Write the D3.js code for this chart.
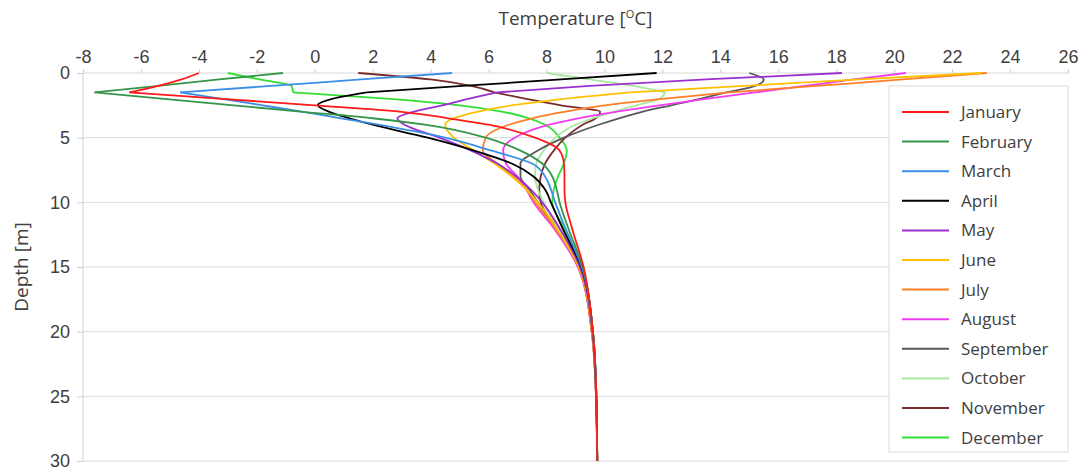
<!DOCTYPE html>
<html>
<head>
<meta charset="utf-8">
<script src="https://cdn.jsdelivr.net/npm/d3@7"></script>
<style>
  body { margin: 0; background: #fff; }
  svg { font-family: "Open Sans", sans-serif; }
  .axis text { fill: #404040; font-size: 18px; }
  .axis .domain { display: none; }
  .axis line { stroke: #d0d0d0; }
</style>
</head>
<body>
<svg id="chart" width="1085" height="474"></svg>
<script>
// depth of each reading [m]
var depths = [0, 0.5, 1, 1.5, 2, 2.5, 3, 3.5, 4, 5, 6, 7, 8, 9, 10, 12, 15, 20, 25, 30];

var months = ["January", "February", "March", "April", "May", "June", "July",
  "August", "September", "October", "November", "December"];
var colors = ["#ff1a1a", "#34964a", "#3b8ee6", "#000000", "#9b30d0", "#ffc000", "#ff7f27",
  "#f23cf2", "#595959", "#a8e8a0", "#7a2b2b", "#33dd33"];

// temperature [C] at each depth
var jan = [-4.0, -4.6, -5.4, -6.4, -3.2, 0.0, 3.0, 4.6, 6.0, 7.6, 8.45, 8.6, 8.62, 8.62, 8.65, 8.88, 9.28, 9.6, 9.72, 9.75];
var feb = [-1.1, -3.3, -5.4, -7.6, -5.2, -2.8, -0.4, 2.0, 3.8, 5.9, 7.1, 7.85, 8.2, 8.35, 8.45, 8.75, 9.25, 9.6, 9.72, 9.75];
var mar = [4.74, 1.6, -1.5, -4.65, -3.2, -1.8, -0.4, 0.9, 2.2, 4.5, 6.1, 7.5, 7.95, 8.15, 8.3, 8.65, 9.22, 9.6, 9.72, 9.75];
var apr = [11.8, 8.5, 5.1, 1.8, 0.6, 0.1, 0.5, 1.2, 2.0, 3.9, 5.5, 6.8, 7.55, 7.95, 8.15, 8.55, 9.2, 9.6, 9.72, 9.75];
var may = [18.2, 13.5, 9.5, 6.3, 5.3, 4.4, 3.4, 2.85, 3.1, 4.3, 5.4, 6.3, 6.95, 7.45, 7.85, 8.45, 9.15, 9.58, 9.71, 9.75];
var jun = [23.0, 18.8, 14.8, 10.9, 8.6, 6.8, 5.6, 4.8, 4.5, 4.8, 5.5, 6.2, 6.8, 7.3, 7.7, 8.35, 9.12, 9.57, 9.71, 9.75];
var jul = [23.2, 20.3, 17.3, 14.3, 12.0, 10.0, 8.6, 7.5, 6.7, 5.9, 5.8, 6.3, 6.85, 7.3, 7.6, 8.3, 9.1, 9.56, 9.71, 9.75];
var aug = [20.4, 18.6, 16.9, 15.2, 13.5, 11.9, 10.4, 9.1, 8.1, 6.9, 6.5, 6.6, 7.0, 7.3, 7.55, 8.25, 9.08, 9.56, 9.71, 9.75];
var sep = [15.0, 15.5, 15.2, 14.2, 13.3, 12.3, 11.3, 10.5, 9.8, 8.6, 7.7, 7.1, 7.1, 7.4, 7.7, 8.3, 9.1, 9.56, 9.71, 9.75];
var oct = [8.0, 9.5, 11.0, 12.1, 11.9, 11.1, 10.3, 9.6, 9.0, 8.3, 7.9, 7.65, 7.6, 7.7, 7.9, 8.4, 9.14, 9.57, 9.71, 9.75];
var nov = [1.5, 4.0, 5.4, 6.2, 7.3, 8.5, 9.85, 9.7, 9.25, 8.65, 8.25, 7.95, 7.8, 7.75, 7.8, 8.35, 9.12, 9.57, 9.71, 9.75];
var dec = [-3.0, -1.9, -0.8, -0.75, 2.6, 5.0, 6.5, 7.4, 7.95, 8.45, 8.7, 8.6, 8.4, 8.25, 8.2, 8.6, 9.2, 9.6, 9.72, 9.75];

var xTicks = [-8, -6, -4, -2, 0, 2, 4, 6, 8, 10, 12, 14, 16, 18, 20, 22, 24, 26];
var yTicks = [0, 5, 10, 15, 20, 25, 30];

function init() {
  var svg = d3.select("#chart");
  var left = 83, right = 1068, top = 73, bottom = 461;

  var x = d3.scaleLinear().domain([-8, 26]).range([left, right]);
  var y = d3.scaleLinear().domain([0, 30]).range([top, bottom]);

  // grid
  svg.append("g").selectAll("line")
    .data(yTicks)
    .enter().append("line")
    .attr("x1", left).attr("x2", right)
    .attr("y1", function (d) { return y(d); })
    .attr("y2", function (d) { return y(d); })
    .attr("stroke", "#d9d9d9").attr("stroke-width", 1);

  svg.append("line")
    .attr("x1", left).attr("x2", left)
    .attr("y1", top).attr("y2", bottom)
    .attr("stroke", "#d0d0d0");

  var xAxis = d3.axisTop(x).tickValues(xTicks).tickSize(4).tickPadding(6)
    .tickFormat(function (d) { return String(d); });
  var yAxis = d3.axisLeft(y).tickValues(yTicks).tickSize(6).tickPadding(7);

  svg.append("g").attr("class", "axis")
    .attr("transform", "translate(0," + top + ")")
    .call(xAxis);
  svg.append("g").attr("class", "axis")
    .attr("transform", "translate(" + left + ",0)")
    .call(yAxis);

  // axis titles
  var t = svg.append("text")
    .attr("x", (left + right) / 2).attr("y", 25)
    .attr("text-anchor", "middle")
    .attr("fill", "#404040").style("font-size", "19px");
  t.append("tspan").text("Temperature [");
  t.append("tspan").attr("dy", -7).style("font-size", "11px").text("O");
  t.append("tspan").attr("dy", 7).text("C]");

  svg.append("text")
    .attr("transform", "translate(28," + (top + bottom) / 2 + ") rotate(-90)")
    .attr("text-anchor", "middle")
    .attr("fill", "#404040").style("font-size", "19px")
    .text("Depth [m]");

  // lines
  var series = [jan, feb, mar, apr, may, jun, jul, aug, sep, oct, nov, dec].map(function (vals, i) {
    return {
      name: months[i],
      color: colors[i],
      points: vals.map(function (v, j) { return { t: v, d: depths[j] }; })
    };
  });

  var line = d3.line()
    .x(function (p) { return x(p.t); })
    .y(function (p) { return y(p.d); })
    .curve(d3.curveMonotoneY);

  var plot = svg.append("g");
  series.slice().reverse().forEach(function (s) {
    var upper = s.points.filter(function (p) { return p.d <= 1.5; });
    var lower = s.points.filter(function (p) { return p.d >= 1.5; });
    [upper, lower].forEach(function (part) {
      plot.append("path")
        .attr("d", line(part))
        .attr("fill", "none")
        .attr("stroke", s.color)
        .attr("stroke-width", 1.8)
        .attr("stroke-linejoin", "round");
    });
  });

  // legend
  var legend = svg.append("g");
  legend.append("rect")
    .attr("x", 889).attr("y", 86)
    .attr("width", 179).attr("height", 366)
    .attr("fill", "#fff").attr("stroke", "#d9d9d9");

  var item = legend.selectAll("g.item")
    .data(series)
    .enter().append("g")
    .attr("class", "item")
    .attr("transform", function (d, i) { return "translate(902," + (112 + i * 29.6) + ")"; });
  item.append("line")
    .attr("x1", 0).attr("x2", 47)
    .attr("stroke", function (d) { return d.color; })
    .attr("stroke-width", 2);
  item.append("text")
    .attr("x", 59).attr("dy", "0.35em")
    .attr("fill", "#404040").style("font-size", "17px")
    .text(function (d) { return d.name; });
}

window.addEventListener("DOMContentLoaded", init);
</script>
</body>
</html>
